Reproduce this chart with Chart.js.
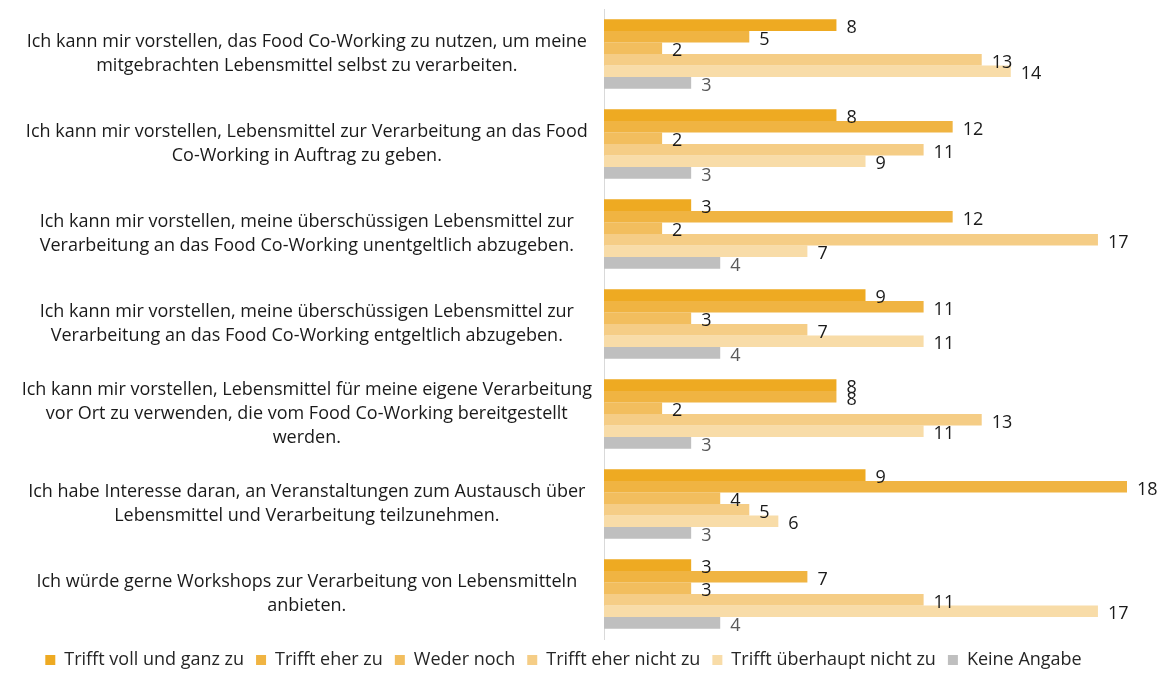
<!DOCTYPE html>
<html>
<head>
<meta charset="utf-8">
<script src="https://cdn.jsdelivr.net/npm/chart.js@4.4.0/dist/chart.umd.min.js"></script>
<style>
  body { margin: 0; background: #fff; }
  #wrap { width: 1162px; height: 673px; }
</style>
</head>
<body>
<div id="wrap"><canvas id="chart" width="1162" height="673"></canvas></div>
<script>
// Aussagen (y-Achse), mehrzeilig wie im Original
const statements = [
    ['Ich kann mir vorstellen, das Food Co-Working zu nutzen, um meine', 'mitgebrachten Lebensmittel selbst zu verarbeiten.'],
    ['Ich kann mir vorstellen, Lebensmittel zur Verarbeitung an das Food', 'Co-Working in Auftrag zu geben.'],
    ['Ich kann mir vorstellen, meine überschüssigen Lebensmittel zur', 'Verarbeitung an das Food Co-Working unentgeltlich abzugeben.'],
    ['Ich kann mir vorstellen, meine überschüssigen Lebensmittel zur', 'Verarbeitung an das Food Co-Working entgeltlich abzugeben.'],
    ['Ich kann mir vorstellen, Lebensmittel für meine eigene Verarbeitung', 'vor Ort zu verwenden, die vom Food Co-Working bereitgestellt', 'werden.'],
    ['Ich habe Interesse daran, an Veranstaltungen zum Austausch über', 'Lebensmittel und Verarbeitung teilzunehmen.'],
    ['Ich würde gerne Workshops zur Verarbeitung von Lebensmitteln', 'anbieten.']
];

const series_names = ['Trifft voll und ganz zu', 'Trifft eher zu', 'Weder noch', 'Trifft eher nicht zu', 'Trifft überhaupt nicht zu', 'Keine Angabe'];

const voll_zu = [8, 8, 3, 9, 8, 9, 3];
const eher_zu = [5, 12, 12, 11, 8, 18, 7];
const weder_noch = [2, 2, 2, 3, 2, 4, 3];
const eher_nicht = [13, 11, 17, 7, 13, 5, 11];
const gar_nicht = [14, 9, 7, 11, 11, 6, 17];
const keine_angabe = [3, 3, 4, 4, 3, 3, 4];

const series_values = [voll_zu, eher_zu, weder_noch, eher_nicht, gar_nicht, keine_angabe];
const color_lst = ['#EEAA22', '#F0B442', '#F2BE5E', '#F5CD86', '#F8DCA8', '#BFBFBF'];
const label_colors = ['#1a1a1a', '#1a1a1a', '#1a1a1a', '#1a1a1a', '#1a1a1a', '#595959'];

const FONT = "'Open Sans', 'Noto Sans', sans-serif";

let datasets = [];
for (let i = 0; i < series_names.length; i++) {
    datasets.push({
        label: series_names[i],
        data: series_values[i],
        backgroundColor: color_lst[i],
        borderWidth: 0,
        barPercentage: 1.0,
        categoryPercentage: 0.77
    });
}

// Zahlen rechts neben den Balken
const valueLabels = {
    id: 'valueLabels',
    afterDatasetsDraw(chart) {
        const ctx = chart.ctx;
        ctx.save();
        ctx.font = '18px ' + FONT;
        ctx.textAlign = 'left';
        ctx.textBaseline = 'middle';
        chart.data.datasets.forEach((ds, i) => {
            const meta = chart.getDatasetMeta(i);
            ctx.fillStyle = label_colors[i];
            meta.data.forEach((bar, j) => {
                ctx.fillText(String(ds.data[j]), bar.x + 10, bar.y + 3);
            });
        });
        ctx.restore();
    }
};

new Chart(document.getElementById('chart').getContext('2d'), {
    type: 'bar',
    data: { labels: statements, datasets: datasets },
    options: {
        indexAxis: 'y',
        responsive: false,
        animation: false,
        layout: { padding: { top: 9, right: 35, left: 0, bottom: -6 } },
        plugins: {
            legend: {
                position: 'bottom',
                labels: {
                    boxWidth: 10,
                    boxHeight: 10,
                    padding: 12,
                    color: '#262626',
                    font: { family: FONT, size: 18, lineHeight: 1.0 }
                }
            },
            tooltip: { enabled: false }
        },
        scales: {
            x: {
                min: 0,
                max: 18,
                display: false
            },
            y: {
                grid: { display: true, drawOnChartArea: false, drawTicks: false, color: 'rgba(0,0,0,0)' },
                border: { display: true, color: '#D9D9D9', width: 1 },
                ticks: {
                    crossAlign: 'center',
                    padding: 12,
                    color: '#1a1a1a',
                    font: { family: FONT, size: 18, lineHeight: 1.33 }
                },
                afterFit(scale) {
                    scale.width = 604;
                    scale.paddingTop = 0;
                    scale.paddingBottom = 0;
                }
            }
        }
    },
    plugins: [valueLabels]
});
</script>
</body>
</html>
